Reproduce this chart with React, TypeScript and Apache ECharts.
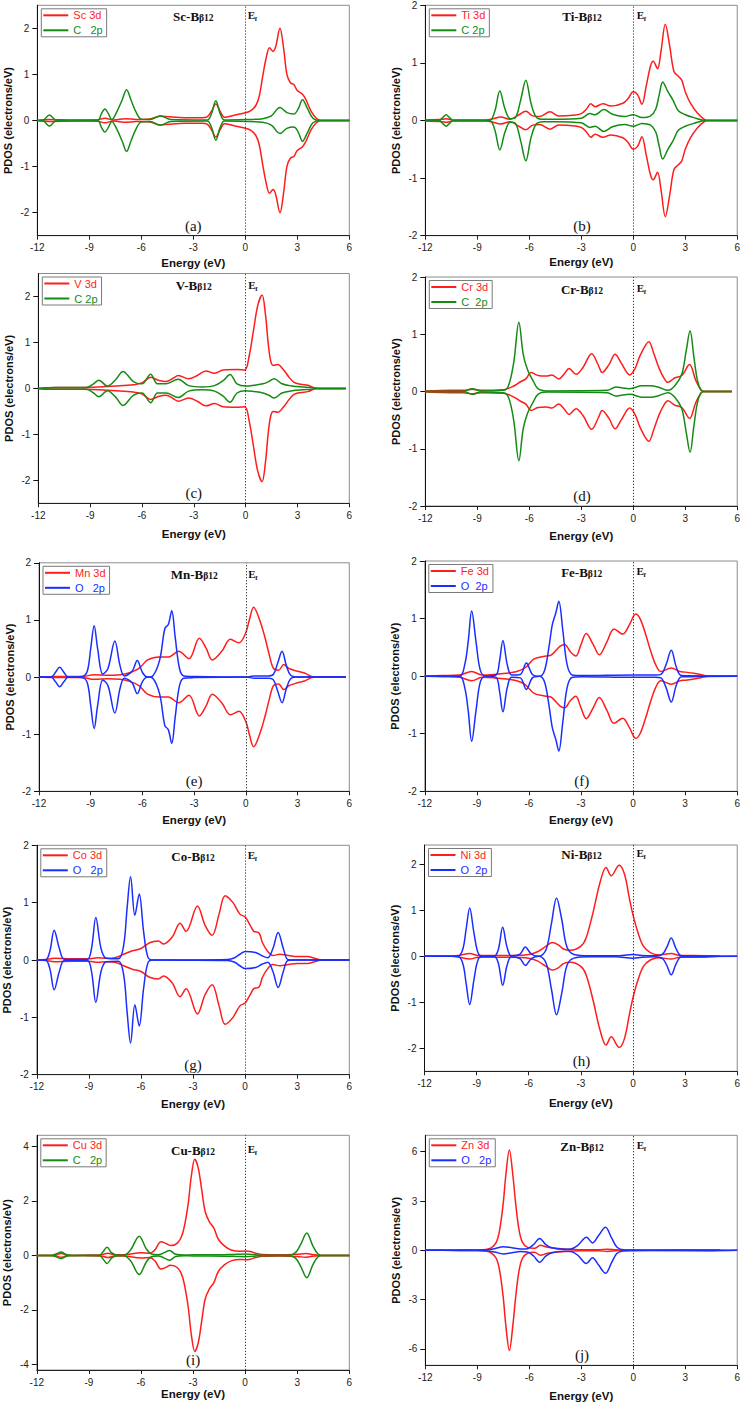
import React, { useEffect, useRef } from "react";
import * as echarts from "echarts";

// ---------- data ----------
const ENERGY_TICKS = [-12, -9, -6, -3, 0, 3, 6];

const SC_3D = [[-12,0],[-11.3,0.02],[-10,0.01],[-8.6,0.01],[-8.1,0.05],[-7.6,0.01],[-6.9,0.04],[-6.3,0.02],[-5.5,0.03],[-4.9,0.1],[-4.4,0.08],[-3.5,0.06],[-2.5,0.06],[-2.2,0.08],[-1.95,0.2],[-1.7,0.36],[-1.45,0.2],[-1.2,0.07],[-0.6,0.12],[0,0.17],[0.3,0.21],[0.6,0.32],[0.8,0.52],[1.0,0.95],[1.2,1.35],[1.4,1.58],[1.6,1.5],[1.75,1.6],[2.0,2.0],[2.2,1.6],[2.4,1.0],[2.6,0.82],[2.8,0.78],[3.0,0.65],[3.3,0.57],[3.5,0.45],[3.8,0.2],[4.1,0.05],[4.4,0],[6,0]];
const SC_C2P = [[-12,0],[-11.7,0],[-11.5,0.06],[-11.3,0.12],[-11.1,0.06],[-10.9,0],[-8.5,0.01],[-8.3,0.15],[-8.1,0.25],[-7.9,0.15],[-7.7,0.02],[-7.4,0.2],[-7.1,0.45],[-6.85,0.67],[-6.6,0.45],[-6.3,0.18],[-6.0,0.03],[-5.5,0.02],[-4.9,0.1],[-4.3,0.02],[-2.2,0.01],[-1.95,0.15],[-1.7,0.43],[-1.45,0.15],[-1.2,0.01],[0,0.02],[1.0,0.04],[1.5,0.1],[2.0,0.28],[2.4,0.17],[2.8,0.14],[3.05,0.25],[3.3,0.45],[3.6,0.25],[3.9,0.05],[4.3,0],[6,0]];

const TI_3D = [[-12,0.01],[-11,0.02],[-10.8,0.03],[-10.4,0.01],[-8.5,0.01],[-8.1,0.03],[-7.65,0.06],[-7.1,0.02],[-6.6,0.1],[-6.2,0.16],[-5.8,0.08],[-5.4,0.07],[-4.8,0.15],[-4.3,0.08],[-3.5,0.09],[-3.0,0.12],[-2.7,0.2],[-2.45,0.29],[-2.2,0.24],[-1.75,0.29],[-1.3,0.25],[-0.6,0.3],[-0.3,0.38],[0,0.5],[0.25,0.45],[0.5,0.28],[0.75,0.6],[1.0,0.95],[1.15,1.03],[1.4,0.9],[1.6,1.2],[1.85,1.67],[2.1,1.3],[2.35,0.85],[2.6,0.77],[2.8,0.7],[3.0,0.5],[3.3,0.3],[3.7,0.13],[4.1,0.02],[4.3,0],[6,0]];
const TI_C2P = [[-12,0],[-11.2,0],[-11.0,0.05],[-10.8,0.1],[-10.6,0.05],[-10.4,0],[-8.3,0],[-8.0,0.15],[-7.7,0.51],[-7.4,0.2],[-7.1,0.03],[-6.8,0.05],[-6.5,0.35],[-6.2,0.7],[-5.9,0.3],[-5.6,0.06],[-5.2,0.02],[-4.5,0.02],[-3.0,0.04],[-2.5,0.12],[-2.2,0.1],[-1.7,0.19],[-1.2,0.11],[-0.5,0.07],[0,0.1],[0.5,0.05],[1.0,0.08],[1.3,0.2],[1.5,0.45],[1.7,0.67],[2.0,0.5],[2.3,0.35],[2.6,0.17],[3.0,0.1],[3.5,0.05],[4.2,0],[6,0]];

const V_3D = [[-12,0],[-11,0.02],[-9.5,0.02],[-8.5,0.03],[-7.5,0.05],[-6.5,0.08],[-6,0.12],[-5.5,0.24],[-5.0,0.17],[-4.6,0.15],[-4.2,0.22],[-3.9,0.28],[-3.3,0.21],[-2.8,0.28],[-2.3,0.38],[-1.8,0.33],[-1.3,0.4],[-0.5,0.41],[-0.05,0.4],[0.2,0.7],[0.45,1.25],[0.7,1.8],[0.95,2.03],[1.15,1.6],[1.3,1.0],[1.45,0.6],[1.6,0.5],[1.85,0.52],[2.2,0.4],[2.5,0.25],[2.8,0.13],[3.2,0.09],[3.6,0.07],[4.0,0.01],[4.3,0],[5.8,0]];
const V_C2P = [[-12,0],[-11,0.02],[-9.2,0.02],[-8.8,0.1],[-8.5,0.18],[-8.0,0.05],[-7.5,0.2],[-7.1,0.37],[-6.5,0.15],[-6.0,0.1],[-5.5,0.31],[-5.1,0.1],[-4.6,0.1],[-3.9,0.2],[-3.3,0.06],[-2.5,0.03],[-1.8,0.06],[-1.3,0.17],[-0.9,0.3],[-0.5,0.1],[0,0.05],[0.5,0.07],[1.0,0.1],[1.35,0.15],[1.65,0.21],[2.1,0.1],[2.7,0.05],[3.3,0.03],[3.8,0.02],[4.2,0],[5.8,0]];

const CR_3D = [[-12,0.01],[-10.5,0.02],[-9.8,0.02],[-9.3,0.04],[-8.8,0.02],[-7.5,0.03],[-7.0,0.08],[-6.5,0.17],[-6.2,0.22],[-5.9,0.33],[-5.5,0.28],[-5.0,0.27],[-4.7,0.29],[-4.3,0.22],[-4.0,0.3],[-3.7,0.4],[-3.3,0.3],[-2.9,0.42],[-2.4,0.66],[-2.0,0.45],[-1.8,0.33],[-1.4,0.47],[-1.05,0.65],[-0.7,0.5],[-0.2,0.29],[0.1,0.4],[0.4,0.63],[0.9,0.87],[1.2,0.65],[1.5,0.4],[1.8,0.22],[2.0,0.16],[2.4,0.24],[2.8,0.28],[3.25,0.47],[3.6,0.2],[3.9,0.03],[4.1,0],[5.7,0]];
const CR_C2P = [[-12,0],[-9.8,0],[-9.3,0.05],[-8.8,0.01],[-7.5,0.02],[-7.2,0.1],[-6.9,0.5],[-6.6,1.21],[-6.35,0.65],[-6.1,0.38],[-5.8,0.2],[-5.5,0.05],[-5.0,0.01],[-1.5,0.02],[-1.0,0.08],[-0.6,0.06],[-0.2,0.05],[0.5,0.1],[1.0,0.1],[1.5,0.07],[2.0,0.02],[2.4,0.1],[2.8,0.3],[3.05,0.7],[3.28,1.06],[3.5,0.6],[3.7,0.2],[3.9,0.03],[4.1,0],[5.7,0]];

const MN_3D = [[-12,0],[-11,0.01],[-9.5,0.01],[-8.8,0.04],[-8,0.03],[-7.3,0.04],[-6.8,0.07],[-6.2,0.15],[-5.7,0.3],[-5.0,0.35],[-4.5,0.35],[-3.9,0.45],[-3.3,0.32],[-2.7,0.68],[-2.3,0.5],[-1.95,0.3],[-1.4,0.45],[-0.9,0.66],[-0.4,0.6],[0,0.78],[0.2,1.0],[0.45,1.22],[0.8,1.0],[1.1,0.7],[1.35,0.4],[1.6,0.15],[1.9,0.12],[2.2,0.22],[2.5,0.15],[3.0,0.1],[3.4,0.07],[3.8,0.01],[4.1,0],[5.8,0]];
const MN_O2P = [[-12,0],[-11.3,0],[-11.05,0.08],[-10.8,0.17],[-10.55,0.08],[-10.3,0],[-9.5,0.01],[-9.2,0.1],[-9.0,0.5],[-8.8,0.9],[-8.6,0.5],[-8.3,0.05],[-8.0,0.15],[-7.6,0.63],[-7.3,0.2],[-7.05,0.02],[-6.6,0.1],[-6.3,0.29],[-6.0,0.08],[-5.7,0.0],[-5.4,0.02],[-5.0,0.3],[-4.7,0.85],[-4.5,0.92],[-4.3,1.16],[-4.1,0.7],[-3.85,0.15],[-3.6,0.02],[-3,0.01],[0,0.0],[0.5,0.02],[1.3,0.02],[1.6,0.05],[1.85,0.25],[2.1,0.45],[2.35,0.2],[2.6,0.03],[3,0],[5.8,0]];

const FE_3D = [[-12,0],[-11,0.01],[-10,0.02],[-9.3,0.08],[-8.7,0.02],[-8.0,0.03],[-7.3,0.05],[-6.7,0.08],[-6.2,0.15],[-5.7,0.3],[-5.0,0.35],[-4.7,0.37],[-4.2,0.52],[-3.95,0.55],[-3.6,0.42],[-3.3,0.35],[-3.0,0.55],[-2.7,0.74],[-2.3,0.55],[-1.95,0.37],[-1.5,0.6],[-1.1,0.82],[-0.6,0.73],[-0.2,0.9],[0.15,1.08],[0.4,1.0],[0.7,0.75],[1.0,0.45],[1.3,0.2],[1.6,0.08],[2.2,0.14],[2.7,0.08],[3.0,0.07],[3.5,0.05],[4.0,0.02],[4.3,0],[6,0]];
const FE_O2P = [[-12,0],[-10,0],[-9.7,0.2],[-9.5,0.6],[-9.3,1.13],[-9.05,0.6],[-8.8,0.1],[-8.5,0.0],[-7.9,0.02],[-7.7,0.25],[-7.5,0.62],[-7.25,0.2],[-7.0,0.02],[-6.5,0.03],[-6.15,0.23],[-5.8,0.03],[-5.4,0],[-5.1,0.1],[-4.85,0.5],[-4.65,0.9],[-4.45,1.1],[-4.28,1.3],[-4.05,0.8],[-3.8,0.2],[-3.5,0.02],[-3,0.01],[0,0.02],[1.3,0.02],[1.6,0.03],[1.9,0.2],[2.2,0.45],[2.5,0.15],[2.8,0.01],[6,0]];

const CO_3D = [[-12,0],[-11.5,0.01],[-11,0.03],[-10,0.02],[-9,0.02],[-8.5,0.04],[-8,0.03],[-7.5,0.04],[-7.0,0.1],[-6.5,0.16],[-6.0,0.2],[-5.5,0.3],[-5.0,0.33],[-4.7,0.28],[-4.2,0.4],[-3.75,0.64],[-3.4,0.5],[-2.75,0.94],[-2.3,0.6],[-1.9,0.43],[-1.5,0.8],[-1.15,1.12],[-0.7,1.0],[-0.3,0.8],[0,0.75],[0.3,0.6],[0.5,0.5],[0.8,0.47],[1.0,0.3],[1.3,0.15],[1.6,0.08],[2.0,0.1],[2.5,0.08],[3.0,0.06],[3.6,0.06],[4.0,0.03],[4.4,0],[6,0]];
const CO_O2P = [[-12,0],[-11.5,0],[-11.25,0.15],[-11.0,0.52],[-10.7,0.2],[-10.4,0.01],[-9.1,0.01],[-8.85,0.2],[-8.6,0.74],[-8.3,0.2],[-8.0,0.03],[-7.3,0.02],[-7.0,0.25],[-6.8,0.9],[-6.6,1.45],[-6.35,0.78],[-6.1,1.15],[-5.85,0.5],[-5.6,0.05],[-5.3,0],[-1,0.01],[-0.6,0.04],[-0.3,0.1],[0,0.15],[0.6,0.13],[1.0,0.07],[1.3,0.04],[1.6,0.2],[1.9,0.48],[2.2,0.2],[2.45,0.01],[2.8,0],[6,0]];

const NI_3D = [[-12,0],[-10.5,0],[-10,0.02],[-9.4,0.06],[-8.9,0.02],[-8,0.02],[-7,0.02],[-6.0,0.04],[-5.5,0.1],[-5.0,0.22],[-4.65,0.3],[-4.3,0.25],[-4.0,0.16],[-3.6,0.13],[-3.0,0.22],[-2.7,0.4],[-2.3,0.95],[-1.9,1.6],[-1.55,1.93],[-1.25,1.75],[-0.8,1.98],[-0.5,1.8],[-0.2,1.25],[0,0.9],[0.3,0.5],[0.6,0.22],[1.0,0.08],[1.5,0.03],[2.2,0.06],[2.7,0.02],[3.5,0.02],[4.5,0.01],[5,0]];
const NI_O2P = [[-12,0],[-10.1,0],[-9.8,0.15],[-9.6,0.6],[-9.4,1.05],[-9.15,0.5],[-8.9,0.06],[-8.6,0],[-8,0],[-7.75,0.15],[-7.5,0.63],[-7.25,0.2],[-7.0,0.01],[-6.5,0.05],[-6.2,0.2],[-5.85,0.05],[-5.4,0],[-5.0,0.15],[-4.7,0.7],[-4.4,1.27],[-4.1,0.8],[-3.8,0.2],[-3.4,0.04],[-2.5,0.01],[-1,0.01],[0,0.04],[0.5,0.02],[1.2,0.01],[1.7,0.05],[1.95,0.2],[2.2,0.4],[2.5,0.15],[2.8,0.01],[6,0]];

const CU_3D = [[-12,0],[-11,0],[-10.6,0.07],[-10.2,0],[-9,0.01],[-8.3,0.02],[-7.9,0.08],[-7.5,0.02],[-7,0.02],[-6.0,0.1],[-5.5,0.08],[-5.2,0.2],[-4.85,0.5],[-4.6,0.45],[-4.3,0.36],[-3.9,0.45],[-3.6,0.8],[-3.3,1.8],[-3.1,2.9],[-2.9,3.52],[-2.7,3.2],[-2.5,2.4],[-2.3,1.6],[-2.05,1.22],[-1.8,1.0],[-1.55,0.6],[-1.2,0.35],[-0.8,0.2],[-0.3,0.15],[0,0.16],[0.3,0.14],[0.6,0.08],[1.0,0.03],[2,0.02],[3,0.04],[3.5,0.07],[4.0,0.02],[4.5,0],[6,0]];
const CU_C2P = [[-12,0],[-11.2,0],[-10.9,0.05],[-10.6,0.12],[-10.3,0.03],[-10.0,0],[-8.4,0],[-8.2,0.12],[-7.95,0.3],[-7.7,0.1],[-7.4,0.01],[-7.0,0.0],[-6.6,0.2],[-6.1,0.7],[-5.7,0.25],[-5.4,0.05],[-5.0,0.02],[-4.65,0.1],[-4.35,0.18],[-4.0,0.04],[-3.5,0.01],[-3,0.02],[-2,0.02],[-1,0.03],[-0.5,0.04],[0,0.05],[0.5,0.03],[1,0.0],[2.5,0.0],[2.9,0.1],[3.2,0.4],[3.55,0.82],[3.9,0.35],[4.2,0.05],[4.5,0],[6,0]];

const ZN_3D = [[-12,0],[-11,0],[-10,0.02],[-9,0.02],[-8.5,0.05],[-8.2,0.15],[-7.9,0.5],[-7.7,1.3],[-7.5,2.9],[-7.35,4.6],[-7.15,6.1],[-6.95,4.6],[-6.8,3.0],[-6.6,1.3],[-6.4,0.5],[-6.1,0.18],[-5.7,0.12],[-5.35,0.3],[-5.0,0.2],[-4.5,0.12],[-4,0.08],[-3.5,0.05],[-3,0.03],[-2,0.03],[-1.5,0.07],[-1,0.03],[-0.5,0.0],[0,0],[4.5,0.01],[5,0]];
const ZN_O2P = [[-12,0],[-9,0],[-8.5,0.02],[-8.0,0.1],[-7.5,0.22],[-7.0,0.15],[-6.5,0.08],[-6.1,0.1],[-5.75,0.35],[-5.4,0.72],[-5.05,0.35],[-4.7,0.15],[-4.0,0.06],[-3.6,0.08],[-3.2,0.3],[-2.7,0.8],[-2.35,0.45],[-2.0,0.9],[-1.6,1.4],[-1.25,0.75],[-0.95,0.2],[-0.6,0.04],[0,0.02],[1,0.01],[4.5,0.02],[6,0]];

const METAL_NAMES = ["Sc 3d", "Ti 3d", "V 3d", "Cr 3d", "Mn 3d", "Fe 3d", "Co 3d", "Ni 3d", "Cu 3d", "Zn 3d"];
const LIGAND_NAMES = ["C   2p", "C 2p", "C 2p", "C  2p", "O   2p", "O  2p", "O   2p", "O  2p", "C   2p", "O   2p"];
const TITLE_PREFIX = ["Sc", "Ti", "V", "Cr", "Mn", "Fe", "Co", "Ni", "Cu", "Zn"];
const PANEL_LETTERS = ["(a)", "(b)", "(c)", "(d)", "(e)", "(f)", "(g)", "(h)", "(i)", "(j)"];
const METAL_DATA = [SC_3D, TI_3D, V_3D, CR_3D, MN_3D, FE_3D, CO_3D, NI_3D, CU_3D, ZN_3D];
const LIGAND_DATA = [SC_C2P, TI_C2P, V_C2P, CR_C2P, MN_O2P, FE_O2P, CO_O2P, NI_O2P, CU_C2P, ZN_O2P];
const LIGAND_IS_OXYGEN = [false, false, false, false, true, true, true, true, false, true];

const Y_TICKS_2 = [-2, -1, 0, 1, 2];
const Y_TICKS_4 = [-4, -2, 0, 2, 4];
const Y_TICKS_6 = [-6, -3, 0, 3, 6];
const Y_TICKS = [Y_TICKS_2, Y_TICKS_2, Y_TICKS_2, Y_TICKS_2, Y_TICKS_2, Y_TICKS_2, Y_TICKS_2, Y_TICKS_2, Y_TICKS_4, Y_TICKS_6];
const Y_MIN = [-2.5, -2, -2.5, -2, -2, -2, -2, -2.5, -4.2, -7];
const Y_MAX = [2.5, 2, 2.5, 2, 2, 2, 2, 2.42, 4.4, 7];

// ---------- layout / style ----------
const LAYOUT = [
  { left: 37.3, top: 5.3, width: 312, height: 230.4, xGap: 21, titleDy: 11 },
  { left: 425.3, top: 5.3, width: 313.4, height: 230.4, xGap: 20, titleDy: 11 },
  { left: 38.3, top: 273.5, width: 311, height: 229.8, xGap: 25, titleDy: 12 },
  { left: 425.3, top: 277, width: 313.4, height: 229, xGap: 24, titleDy: 12 },
  { left: 39, top: 562.8, width: 310.3, height: 228.5, xGap: 23, titleDy: 12 },
  { left: 424.8, top: 561, width: 313.9, height: 230.3, xGap: 23, titleDy: 11 },
  { left: 36.8, top: 845.3, width: 312.5, height: 229.4, xGap: 23, titleDy: 11 },
  { left: 424.5, top: 845, width: 314.2, height: 226.3, xGap: 26, titleDy: 9 },
  { left: 36.8, top: 1135.3, width: 312.5, height: 234.7, xGap: 14, titleDy: 15 },
  { left: 425.3, top: 1135.3, width: 313.4, height: 230, xGap: 25, titleDy: 11 },
];

const RED = "#ff1c1c";
const GREEN = "#148c14";
const BLUE = "#1a2eff";
const SANS = "'Liberation Sans', Arial, Helvetica, sans-serif";
const SERIF = "'Liberation Serif', 'Times New Roman', Times, serif";

function buildOption() {
  const grids: any[] = [];
  const xAxes: any[] = [];
  const yAxes: any[] = [];
  const series: any[] = [];
  const legends: any[] = [];
  const graphics: any[] = [];

  LAYOUT.forEach((L, i) => {
    const ligColor = LIGAND_IS_OXYGEN[i] ? BLUE : GREEN;
    grids.push({
      left: L.left, top: L.top, width: L.width, height: L.height,
      show: true, borderColor: "#8c8c8c", borderWidth: 1, backgroundColor: "transparent",
    });
    xAxes.push({
      gridIndex: i, type: "value", min: -12, max: 6, interval: 3,
      axisLine: { show: true, onZero: false, lineStyle: { color: "#222", width: 1 } },
      axisTick: { show: true, inside: false, length: 4, lineStyle: { color: "#222" }, customValues: ENERGY_TICKS },
      axisLabel: { customValues: ENERGY_TICKS, fontSize: 10, fontFamily: SANS, color: "#222", margin: 7 },
      splitLine: { show: false },
      name: "Energy (eV)", nameLocation: "middle", nameGap: L.xGap,
      nameTextStyle: { fontSize: 11.5, fontWeight: "bold", fontFamily: SANS, color: "#111" },
    });
    yAxes.push({
      gridIndex: i, type: "value", min: Y_MIN[i], max: Y_MAX[i], splitNumber: Y_TICKS[i].length - 1,
      axisLine: { show: true, onZero: false, lineStyle: { color: "#111", width: 1 } },
      axisTick: { show: true, inside: false, length: 5, lineStyle: { color: "#111" }, customValues: Y_TICKS[i] },
      axisLabel: { customValues: Y_TICKS[i], fontSize: 10, fontFamily: SANS, color: "#222", margin: 8 },
      splitLine: { show: false },
      name: "PDOS (electrons/eV)", nameLocation: "middle", nameGap: 24,
      nameTextStyle: { fontSize: 11, fontWeight: "bold", fontFamily: SANS, color: "#111" },
    });

    const mk = (name: string, data: number[][], color: string, sign: number, z: number, zeroLine: boolean) => ({
      type: "line", name, xAxisIndex: i, yAxisIndex: i,
      data: data.map(([x, y]) => [x, sign * y]),
      showSymbol: false, symbol: "none", smooth: 0.35, clip: true, silent: true, z,
      lineStyle: { color, width: 1.5 }, itemStyle: { color },
      markLine: zeroLine ? {
        silent: true, symbol: ["none", "none"], label: { show: false },
        lineStyle: { type: [1.2, 1.8], color: "#333", width: 1 },
        data: [{ xAxis: 0 }],
      } : undefined,
    });
    series.push(mk(METAL_NAMES[i], METAL_DATA[i], RED, 1, 2, true));
    series.push(mk(METAL_NAMES[i], METAL_DATA[i], RED, -1, 2, false));
    series.push(mk(LIGAND_NAMES[i], LIGAND_DATA[i], ligColor, 1, 3, false));
    series.push(mk(LIGAND_NAMES[i], LIGAND_DATA[i], ligColor, -1, 3, false));

    legends.push({
      left: L.left + 4, top: L.top + 3.5, orient: "vertical", icon: "rect",
      itemWidth: 25, itemHeight: 2, itemGap: 4, padding: [1, 4, 1, 2],
      borderColor: "#7a7a7a", borderWidth: 1, selectedMode: false,
      textStyle: { fontSize: 11, fontFamily: SANS, lineHeight: 11 },
      data: [
        { name: METAL_NAMES[i], textStyle: { color: RED }, itemStyle: { color: RED } },
        { name: LIGAND_NAMES[i], textStyle: { color: ligColor }, itemStyle: { color: ligColor } },
      ],
    });

    const cx = L.left + L.width / 2;
    const zeroX = L.left + (L.width * 12) / 18;
    const ty = L.top + L.titleDy;
    graphics.push({
      type: "text", x: cx, y: ty, silent: true,
      style: {
        text: `{a|${TITLE_PREFIX[i]}-B}{b|β12}`,
        align: "center", verticalAlign: "middle", textAlign: "center", textVerticalAlign: "middle",
        rich: {
          a: { fontFamily: SERIF, fontWeight: "bold", fontSize: 13, lineHeight: 13, verticalAlign: "bottom", fill: "#111", color: "#111" },
          b: { fontFamily: SERIF, fontWeight: "bold", fontSize: 9.5, lineHeight: 10, verticalAlign: "bottom", fill: "#111", color: "#111" },
        },
      },
    });
    graphics.push({
      type: "text", x: zeroX + 2.5, y: ty - 1, silent: true,
      style: { text: "E", fontFamily: SERIF, fontWeight: "bold", fontSize: 11, fill: "#111", align: "left", verticalAlign: "middle", textAlign: "left", textVerticalAlign: "middle" },
    });
    graphics.push({
      type: "text", x: zeroX + 9.5, y: ty + 3, silent: true,
      style: { text: "f", fontFamily: SERIF, fontWeight: "bold", fontSize: 7, fill: "#111", align: "left", verticalAlign: "middle", textAlign: "left", textVerticalAlign: "middle" },
    });
    graphics.push({
      type: "text", x: cx, y: L.top + L.height - 10, silent: true,
      style: { text: PANEL_LETTERS[i], fontFamily: SERIF, fontSize: 15, fill: "#111", align: "center", verticalAlign: "middle", textAlign: "center", textVerticalAlign: "middle" },
    });
  });

  return {
    animation: false,
    backgroundColor: "#ffffff",
    grid: grids,
    xAxis: xAxes,
    yAxis: yAxes,
    legend: legends,
    series,
    graphic: { elements: graphics },
  };
}

export default function App() {
  const ref = useRef<HTMLDivElement | null>(null);
  useEffect(() => {
    if (!ref.current) return;
    const chart = echarts.init(ref.current, undefined, { renderer: "svg" });
    chart.setOption(buildOption() as any);
    return () => chart.dispose();
  }, []);
  return (
    <div
      ref={ref}
      style={{ position: "absolute", left: 0, top: 0, width: 743, height: 1406, background: "#fff" }}
    />
  );
}
